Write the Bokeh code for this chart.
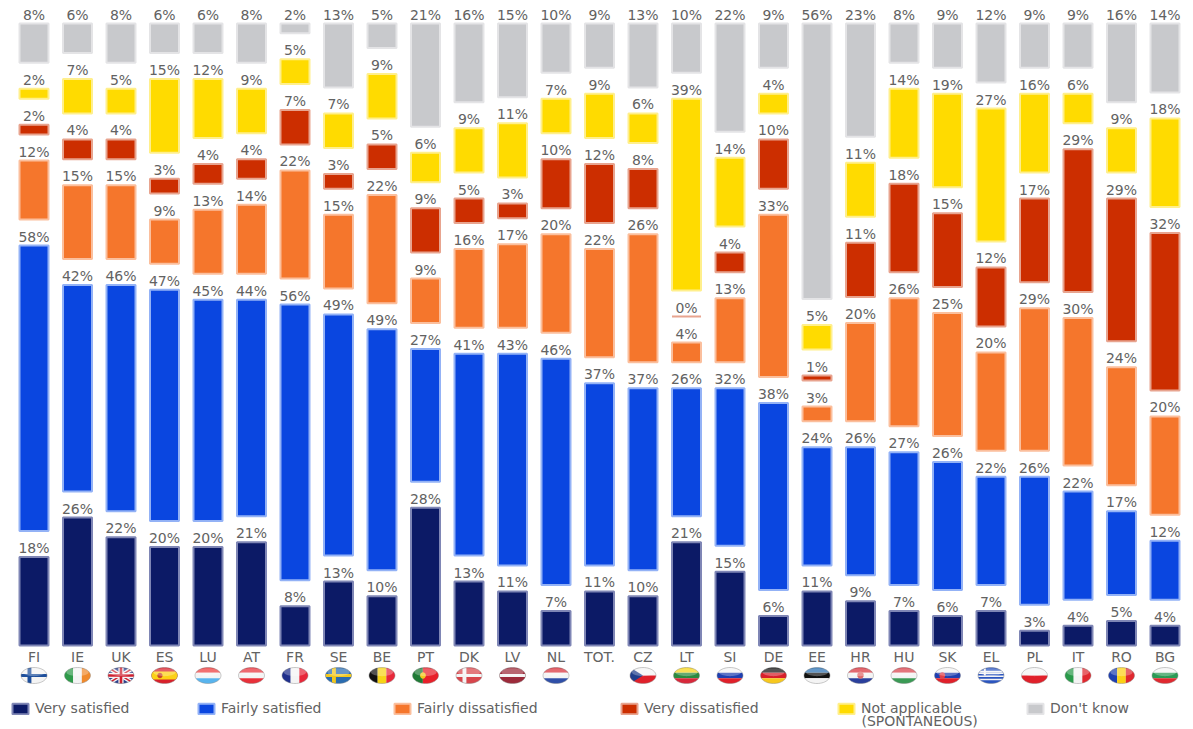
import numpy as np
from bokeh.plotting import figure
from bokeh.models import ColumnDataSource, Range1d, LinearAxis, FixedTicker, Legend, LegendItem
from bokeh.core.properties import value
from bokeh.embed import file_html
from bokeh.resources import INLINE

countries = ["FI","IE","UK","ES","LU","AT","FR","SE","BE","PT","DK","LV","NL","TOT.","CZ","LT","SI","DE","EE","HR","HU","SK","EL","PL","IT","RO","BG"]
very_satisfied = [18,26,22,20,20,21,8,13,10,28,13,11,7,11,10,21,15,6,11,9,7,6,7,3,4,5,4]
fairly_satisfied = [58,42,46,47,45,44,56,49,49,27,41,43,46,37,37,26,32,38,24,26,27,26,22,26,22,17,12]
fairly_dissatisfied = [12,15,15,9,13,14,22,15,22,9,16,17,20,22,26,4,13,33,3,20,26,25,20,29,30,24,20]
very_dissatisfied = [2,4,4,3,4,4,7,3,5,9,5,3,10,12,8,0,4,10,1,11,18,15,12,17,29,29,32]
not_applicable = [2,7,5,15,12,9,5,7,9,6,9,11,7,9,6,39,14,4,5,11,14,19,27,16,6,9,18]
dont_know = [8,6,8,6,6,8,2,13,5,21,16,15,10,9,13,10,22,9,56,23,8,9,12,9,9,16,14]

series_names = ["Very satisfied","Fairly satisfied","Fairly dissatisfied","Very dissatisfied","Not applicable","Don't know"]
series_values = [very_satisfied,fairly_satisfied,fairly_dissatisfied,very_dissatisfied,not_applicable,dont_know]
fills = ["#0c1a66","#0a46e0","#f5762c","#cc2e00","#ffdb00","#c8c9cc"]
halos = ["#7f86b5","#93b2f6","#fbbf9d","#e8a48f","#ffef8c","#e4e4e6"]

W, H = 1193, 729
PX_X = 43.5          # pixels per category
PX_Y = 4.92          # pixels per percentage point
BASE = 645           # baseline, in frame pixels from the top
X0 = 33.5
GAP = 26 / PX_Y
TEXT = "#626262"

p = figure(width=W, height=H, output_backend="svg", toolbar_location=None,
           x_range=Range1d(-X0 / PX_X, (W - X0) / PX_X),
           y_range=Range1d(-(H - BASE) / PX_Y, BASE / PX_Y),
           x_axis_location=None, y_axis_location=None, min_border=0, outline_line_color=None)
p.grid.visible = False

xs = np.arange(len(countries))
bottom = np.zeros(len(countries))
renderers = []
for vals, fill, halo in zip(series_values, fills, halos):
    v = np.array(vals, dtype=float)
    src = ColumnDataSource(dict(x=xs, bottom=bottom, top=bottom + v, label=[f"{n}%" for n in vals]))
    r = p.vbar(x="x", width=29 / PX_X, bottom="bottom", top="top", source=src,
               fill_color=fill, line_color=halo, line_width=2)
    p.text(x="x", y="top", text="label", source=src, text_align="center", text_baseline="bottom",
           y_offset=-1, text_font=value("DejaVu Sans"), text_font_size="14px", text_color=TEXT)
    renderers.append(r)
    bottom = bottom + v + GAP

axis = LinearAxis(ticker=FixedTicker(ticks=list(range(len(countries)))),
                  major_label_overrides={i: c for i, c in enumerate(countries)},
                  axis_line_color=None, major_tick_line_color=None, minor_tick_line_color=None,
                  major_tick_out=0, major_tick_in=0,
                  major_label_standoff=3, major_label_text_font="DejaVu Sans",
                  major_label_text_font_size="14px", major_label_text_color=TEXT)
axis.fixed_location = 0
p.add_layout(axis, "below")

# ---- flags: convex shapes in unit-ellipse space clipped to the ellipse
def rect(x0, y0, x1, y1, c):
    return ([(x0, y0), (x1, y0), (x1, y1), (x0, y1)], c)

def hb(*cols):
    n = len(cols)
    return [rect(-1, 1 - 2 * (i + 1) / n, 1, 1 - 2 * i / n, c) for i, c in enumerate(cols)]

def vb(*cols):
    n = len(cols)
    return [rect(-1 + 2 * i / n, -1, -1 + 2 * (i + 1) / n, 1, c) for i, c in enumerate(cols)]

def nordic(bg, cross):
    return [rect(-1, -1, 1, 1, bg), rect(-0.5, -1, -0.2, 1, cross), rect(-1, -0.2, 1, 0.2, cross)]

def circle(cx, cy, rx, ry, c):
    t = np.linspace(0, 2 * np.pi, 16, endpoint=False)
    return ([(cx + rx * np.cos(a), cy + ry * np.sin(a)) for a in t], c)

def diag(sign, w, c):
    return ([(-1, -sign * 1 - w), (1, sign * 1 - w), (1, sign * 1 + w), (-1, -sign * 1 + w)], c)

WH, K = "#f4f4f4", "#111111"
FLAGS = {
    "FI": nordic(WH, "#1e4f9c"),
    "IE": vb("#2f9a4a", WH, "#f08a2c"),
    "UK": [rect(-1, -1, 1, 1, "#2b3f8c"), diag(1, .3, WH), diag(-1, .3, WH), diag(1, .12, "#cf2030"), diag(-1, .12, "#cf2030"),
           rect(-.2, -1, .2, 1, WH), rect(-1, -.3, 1, .3, WH), rect(-.1, -1, .1, 1, "#cf2030"), rect(-1, -.16, 1, .16, "#cf2030")],
    "ES": [rect(-1, -1, 1, 1, "#d8202a"), rect(-1, -.5, 1, .5, "#fcd116"), circle(-.35, 0, .2, .35, "#c8462c")],
    "LU": hb("#ee3a3a", WH, "#58b4ee"),
    "AT": hb("#e8303a", WH, "#e8303a"),
    "FR": vb("#1f2f8c", WH, "#e8283a"),
    "SE": nordic("#2a6cb0", "#f2c81e"),
    "BE": vb(K, "#f7d417", "#e8283a"),
    "PT": [rect(-1, -1, -.2, 1, "#1f7a35"), rect(-.2, -1, 1, 1, "#e8202a"), circle(-.2, 0, .22, .4, "#f2c81e")],
    "DK": nordic("#d8464c", WH),
    "LV": [rect(-1, -1, 1, 1, "#9c2a3a"), rect(-1, -.2, 1, .2, WH)],
    "NL": hb("#d8303a", WH, "#2f4fa8"),
    "CZ": hb(WH, "#e0202a") + [([(-1, -1), (0, 0), (-1, 1)], "#1f3f8c")],
    "LT": hb("#f7d417", "#2a8a3f", "#d8283a"),
    "SI": hb(WH, "#1f3fb0", "#e0202a"),
    "DE": hb(K, "#d8202a", "#f7c81e"),
    "EE": hb("#2a70b0", K, WH),
    "HR": hb("#d8303a", WH, "#2a3f9c") + [circle(0, .05, .25, .45, "#e06a6a")],
    "HU": hb("#d8404a", WH, "#3a9a55"),
    "SK": hb(WH, "#1f3fb0", "#e0202a") + [circle(-.4, 0, .22, .42, "#e0404a")],
    "EL": [rect(-1, -1, 1, 1, "#2a55c0"), rect(-1, .2, 1, .4, WH), rect(-1, -.2, 1, 0, WH), rect(-1, -.6, 1, -.4, WH),
           rect(-.55, 0, -.4, 1, WH), rect(-1, .45, 1, .6, WH)],
    "PL": hb(WH, "#e0202a"),
    "IT": vb("#2a9a4a", WH, "#e0282f"),
    "RO": vb("#1f3fb0", "#fcd116", "#e0282f"),
    "BG": hb(WH, "#2a9a55", "#e0282f"),
}

def clip(subject, poly):
    poly = list(poly)
    area = sum(poly[i][0] * poly[(i + 1) % len(poly)][1] - poly[(i + 1) % len(poly)][0] * poly[i][1] for i in range(len(poly)))
    if area < 0:
        poly = poly[::-1]
    out = list(subject)
    for i in range(len(poly)):
        ax, ay = poly[i]
        bx, by = poly[(i + 1) % len(poly)]
        side = lambda q: (bx - ax) * (q[1] - ay) - (by - ay) * (q[0] - ax)
        res = []
        for j in range(len(out)):
            c, d = out[j], out[(j + 1) % len(out)]
            sc, sd = side(c), side(d)
            if sc >= 0:
                res.append(c)
            if sc * sd < 0:
                t = sc / (sc - sd)
                res.append((c[0] + t * (d[0] - c[0]), c[1] + t * (d[1] - c[1])))
        out = res
        if not out:
            break
    return out

RX, RY = 13 / PX_X, 8 / PX_Y
FLAG_Y = -30 / PX_Y
th = np.linspace(0, 2 * np.pi, 48, endpoint=False)
ell = [(np.cos(a), np.sin(a)) for a in th]
px, py, pc = [], [], []
for i, code in enumerate(countries):
    for poly, col in FLAGS.get(code, []):
        c = clip(ell, poly)
        if c:
            px.append([i + RX * q[0] for q in c])
            py.append([FLAG_Y + RY * q[1] for q in c])
            pc.append(col)
p.patches(px, py, fill_color=pc, line_color=None)
idx = [i for i, c in enumerate(countries) if c in FLAGS]
p.patches([[i + RX * .85 * np.cos(a) for a in th] for i in idx],
          [[FLAG_Y + RY * (.42 + .5 * np.sin(a)) for a in th] for i in idx],
          fill_color="#ffffff", fill_alpha=.28, line_color=None)
p.patches([[i + RX * np.cos(a) for a in th] for i in idx],
          [[FLAG_Y + RY * np.sin(a) for a in th] for i in idx],
          fill_color=None, line_color="#8a8a8a", line_alpha=.45, line_width=1)

# ---- legend, one block per entry
legend_x = [10, 196, 392, 619, 836, 1025]
for name, r, lx in zip(series_names, renderers, legend_x):
    leg = Legend(items=[LegendItem(label=name, renderers=[r])], location=(lx, H - 716),
                 orientation="vertical", glyph_width=20, glyph_height=13, label_standoff=5,
                 padding=0, margin=0, spacing=0, border_line_color=None, background_fill_alpha=0,
                 label_text_font="DejaVu Sans", label_text_font_size="14px", label_text_color=TEXT,
                 label_height=10)
    p.add_layout(leg, "center")
p.text(x=[(861 - X0) / PX_X], y=[(BASE - 720) / PX_Y], text=["(SPONTANEOUS)"], text_align="left",
       text_baseline="middle", text_font=value("DejaVu Sans"), text_font_size="14px", text_color=TEXT)

open("out.html", "w").write(file_html(p, INLINE))
